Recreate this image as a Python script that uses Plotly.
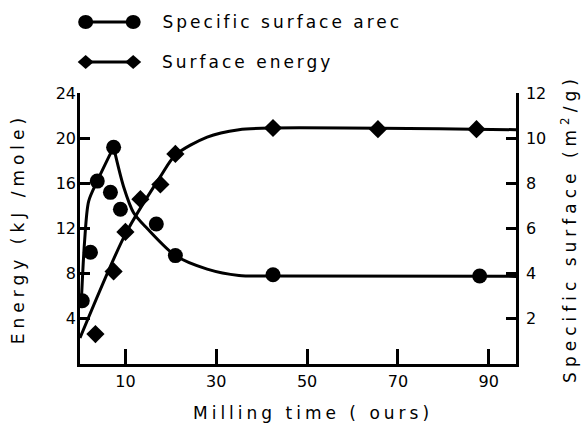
import plotly.graph_objects as go

# ---------------- data ----------------
# Specific surface area (m^2/g) – circles, right axis
area_time = [0.5, 2.3, 3.8, 6.7, 7.4, 8.9, 16.8, 21.0, 42.5, 88.0]
area_val = [2.8, 4.95, 8.1, 7.6, 9.6, 6.85, 6.2, 4.8, 3.95, 3.9]

# Surface energy (kJ/mole) – diamonds, left axis
energy_time = [3.4, 7.4, 10.0, 13.3, 17.7, 21.0, 42.5, 65.6, 87.3]
energy_val = [2.65, 8.2, 11.7, 14.6, 15.9, 18.6, 20.9, 20.8, 20.8]

# hand-drawn fitted curves
area_rise_t = [0.3, 1.0, 1.9, 3.8, 7.4]
area_rise_v = [2.8, 5.4, 7.2, 8.1, 9.6]
area_fall_t = [7.4, 9.6, 11.8, 14.8, 21.0, 28.0, 35.0, 42.5, 96.0]
area_fall_v = [9.6, 7.85, 6.7, 6.0, 4.8, 4.2, 3.92, 3.9, 3.88]

energy_curve_t = [0.0, 10.0, 17.7, 21.0, 28.0, 35.0, 42.5, 96.0]
energy_curve_v = [2.3, 11.5, 16.6, 18.5, 20.1, 20.75, 20.9, 20.75]

x_ticks = [10, 30, 50, 70, 90]
y_left_ticks = [4, 8, 12, 16, 20, 24]
y_right_ticks = [2, 4, 6, 8, 10, 12]

legend_labels = ["Specific surface arec", "Surface energy"]
x_title = "Milling time ( ours)"

FONT = "DejaVu Sans"
BLACK = "black"

fig = go.Figure()

# curves
fig.add_trace(go.Scatter(x=area_rise_t, y=area_rise_v, yaxis="y2", mode="lines",
                         line=dict(color=BLACK, width=3, shape="spline", smoothing=0.8),
                         showlegend=False, hoverinfo="skip"))
fig.add_trace(go.Scatter(x=area_fall_t, y=area_fall_v, yaxis="y2", mode="lines",
                         line=dict(color=BLACK, width=3, shape="spline", smoothing=0.8),
                         showlegend=False, hoverinfo="skip"))
fig.add_trace(go.Scatter(x=energy_curve_t, y=energy_curve_v, mode="lines",
                         line=dict(color=BLACK, width=3, shape="spline", smoothing=0.8),
                         showlegend=False, hoverinfo="skip"))

# markers
fig.add_trace(go.Scatter(x=area_time, y=area_val, yaxis="y2", mode="markers",
                         marker=dict(symbol="circle", size=15, color=BLACK),
                         name=legend_labels[0], showlegend=False))
fig.add_trace(go.Scatter(x=energy_time, y=energy_val, mode="markers",
                         marker=dict(symbol="diamond", size=14, color=BLACK),
                         name=legend_labels[1], showlegend=False))

# ---- custom legend (dumbbell symbols) ----
shapes = []
annotations = []
leg_rows = [1.262, 1.114]
leg_text_x = [0.256, 0.232]   # centre-compensated for letter spacing
leg_x0, leg_x1 = 0.013, 0.122
for i, yy in enumerate(leg_rows):
    shapes.append(dict(type="line", xref="paper", yref="paper",
                       x0=leg_x0, x1=leg_x1, y0=yy, y1=yy,
                       line=dict(color=BLACK, width=3)))
    for xx in (leg_x0, leg_x1):
        if i == 0:
            shapes.append(dict(type="circle", xref="paper", yref="paper",
                               xsizemode="pixel", ysizemode="pixel",
                               xanchor=xx, yanchor=yy, x0=-7.5, x1=7.5, y0=-7, y1=7,
                               fillcolor=BLACK, line=dict(color=BLACK, width=0)))
        else:
            shapes.append(dict(type="path", xref="paper", yref="paper",
                               xsizemode="pixel", ysizemode="pixel",
                               xanchor=xx, yanchor=yy,
                               path="M -8 0 L 0 7 L 8 0 L 0 -7 Z",
                               fillcolor=BLACK, line=dict(color=BLACK, width=0)))
    annotations.append(dict(text=legend_labels[i], xref="paper", yref="paper",
                            x=leg_text_x[i], y=yy, xanchor="left", yanchor="middle",
                            showarrow=False,
                            font=dict(family=FONT, size=17, color=BLACK)))

# x-axis title (slightly right of centre, as in the original)
annotations.append(dict(text=x_title, xref="paper", yref="paper",
                        x=0.534, y=-0.181, xanchor="center", yanchor="middle",
                        showarrow=False,
                        font=dict(family=FONT, size=17, color=BLACK)))

fig.update_layout(
    width=582, height=424,
    margin=dict(l=80, r=66, t=93, b=60, autoexpand=False),
    paper_bgcolor="white", plot_bgcolor="white",
    font=dict(family=FONT, color=BLACK, size=15),
    shapes=shapes, annotations=annotations,
    showlegend=False,
    xaxis=dict(range=[0, 96], tickvals=x_ticks, ticks="inside", ticklen=15,
               tickwidth=2.5, tickcolor=BLACK, showline=True, linewidth=2.5,
               linecolor=BLACK, showgrid=False, zeroline=False,
               ticklabelstandoff=1, automargin=False,
               tickfont=dict(family=FONT, size=16, color=BLACK)),
    yaxis=dict(range=[0, 24], tickvals=y_left_ticks, ticks="inside", ticklen=10,
               tickwidth=2.5, tickcolor=BLACK, showline=True, linewidth=2.5,
               linecolor=BLACK, showgrid=False, zeroline=False,
               ticklabelstandoff=-2, automargin=False,
               tickfont=dict(family=FONT, size=16, color=BLACK),
               title=dict(text="Energy (kJ /mole)", standoff=27,
                          font=dict(family=FONT, size=17, color=BLACK))),
    yaxis2=dict(range=[0, 12], tickvals=y_right_ticks, ticks="inside", ticklen=10,
                tickwidth=2.5, tickcolor=BLACK, showline=True, linewidth=2.5,
                linecolor=BLACK, showgrid=False, zeroline=False,
                overlaying="y", side="right", anchor="x",
                ticklabelstandoff=4, automargin=False,
                tickfont=dict(family=FONT, size=16, color=BLACK),
                title=dict(text="Specific surface (m<sup>2</sup>/g)", standoff=19,
                           font=dict(family=FONT, size=17, color=BLACK))),
)

post = """
document.body.style.margin = '0';
var gd = document.getElementById('{plot_id}');
function spaceText() {
  gd.querySelectorAll('text.annotation-text').forEach(function (t) {
    t.style.letterSpacing = (t.textContent.indexOf('Milling') === 0) ? '4px' : '3px';
  });
  gd.querySelectorAll('text.ytitle, text.y2title').forEach(function (t) { t.style.letterSpacing = '5px'; });
}
spaceText();
gd.on('plotly_afterplot', spaceText);
"""

fig.write_html("out.html", post_script=post, config={"displayModeBar": False})
